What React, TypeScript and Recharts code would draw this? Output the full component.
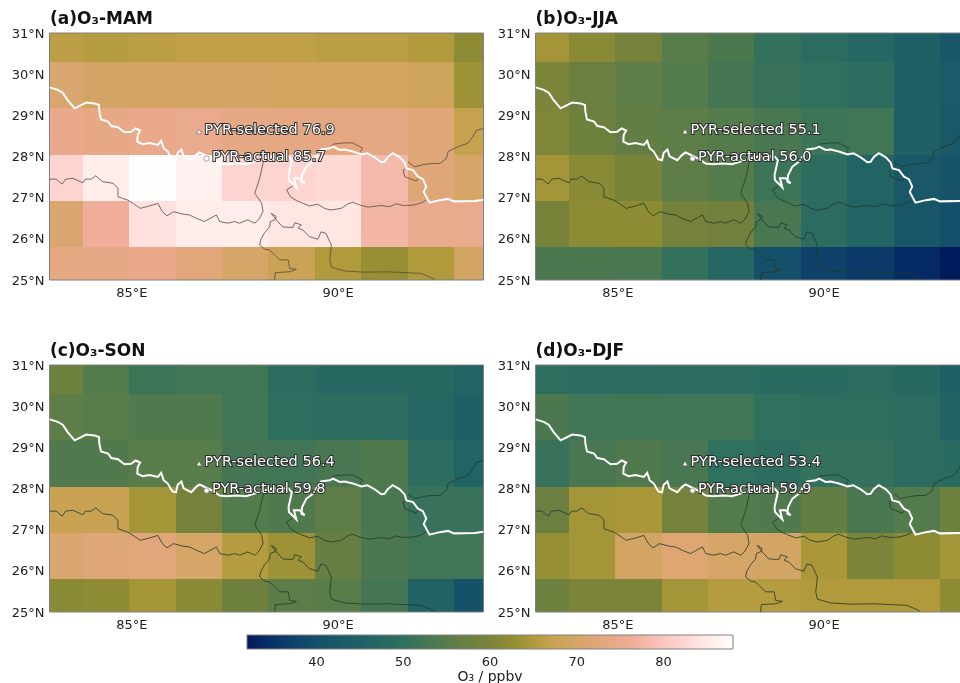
import React from "react";
import { ScatterChart, Scatter, XAxis, YAxis, ReferenceArea, Label } from "recharts";

const FONT = "'DejaVu Sans', sans-serif";
const lonEdges = [83, 83.8125, 84.9375, 86.0625, 87.1875, 88.3125, 89.4375, 90.5625, 91.6875, 92.8125, 93.53];
const latEdges = [31, 30.29, 29.17, 28.04, 26.92, 25.79, 25];
const lonTicks = [85, 90];
const latTicks = [25, 26, 27, 28, 29, 30, 31];
const cbarTicks = [40, 50, 60, 70, 80];

const mam = [
  [66, 65.5, 66, 66.5, 66.5, 66.5, 66, 66, 65, 62],
  [71, 69.5, 69.5, 69.5, 69.5, 69, 69, 69, 68.5, 63.5],
  [74.5, 74, 74.5, 75, 74, 73.5, 73.5, 73.5, 72, 67],
  [82, 85.5, 87.8, 86, 82, 82, 82.5, 78, 72, 70],
  [71, 76.5, 84, 85.5, 85.5, 84.5, 84.5, 77.5, 75, 75],
  [73.5, 74, 74.5, 72.5, 70, 68, 65, 63, 65, 69.5],
];
const jja = [
  [64, 61.5, 59, 55, 53.5, 50.5, 48.5, 47, 45, 42],
  [60, 57.5, 56, 54.5, 52.5, 51, 50, 49, 45, 43],
  [60.5, 58, 56.5, 55.5, 54.5, 53, 51.5, 52, 45, 42.5],
  [64, 61.5, 59.5, 56, 54.5, 51.5, 49, 46, 42.5, 41],
  [59.5, 62, 62, 59, 58.5, 53, 48.5, 46, 42, 40],
  [53.5, 53.5, 53, 50.5, 47, 40, 37.5, 36, 34, 32],
];
const son = [
  [58, 54.5, 51.5, 52, 52, 49, 47.5, 47.5, 47.5, 46],
  [56, 55, 54, 54, 52, 49.5, 49, 49, 47, 45],
  [54, 54, 55, 55, 52.5, 52, 53, 54, 49, 46],
  [67.5, 67.5, 64, 59, 54.5, 54, 56, 53, 51, 51],
  [71, 72, 72.5, 70, 65.5, 63.5, 57, 53.5, 52, 52],
  [61.5, 62, 64, 61.5, 58, 55.5, 55, 52.5, 45.5, 40.5],
];
const djf = [
  [49.5, 49, 48.5, 49, 49, 48, 48, 48.5, 47.5, 45],
  [53.5, 52, 52, 52, 52, 50, 49.5, 49.5, 48.5, 45.5],
  [51, 53, 54, 53, 50, 49, 50.5, 50.5, 48.5, 48],
  [57.5, 64, 64.5, 59, 54.5, 54, 56.5, 53, 54.5, 58],
  [63, 64, 69.5, 71.5, 70, 69.5, 64.5, 60, 62, 64],
  [58, 60, 60, 64, 65.5, 65.5, 65, 65, 65, 62],
];

const chinaBorder = [
  [83.0, 29.68], [83.2, 29.62], [83.32, 29.55], [83.44, 29.37], [83.61, 29.17], [83.73, 29.23], [83.89, 29.31], [84.09, 29.29],
  [84.2, 29.25], [84.21, 29.09], [84.25, 28.9], [84.42, 28.85], [84.5, 28.74], [84.66, 28.71], [84.82, 28.59], [84.98, 28.6],
  [85.09, 28.68], [85.2, 28.63], [85.14, 28.52], [85.13, 28.36], [85.26, 28.3], [85.43, 28.33], [85.63, 28.28], [85.71, 28.38],
  [85.77, 28.2], [85.87, 28.12], [85.98, 27.93], [86.07, 27.91], [86.11, 28.09], [86.2, 28.17], [86.25, 28.01], [86.28, 27.99],
  [86.44, 27.91], [86.56, 28.04], [86.64, 28.1], [86.78, 28.03], [86.95, 27.95], [87.13, 27.83], [87.29, 27.81], [87.57, 27.83],
  [87.77, 27.81], [88.1, 27.92], [88.4, 28.0], [88.8, 28.0], [88.88, 27.91], [88.8, 27.55], [88.81, 27.43], [88.99, 27.25],
  [88.93, 27.47], [89.07, 27.47], [89.19, 27.35], [89.11, 27.39], [89.13, 27.55], [89.23, 27.75], [89.39, 27.87], [89.59, 28.17],
  [89.8, 28.2], [89.88, 28.24], [90.04, 28.16], [90.16, 28.17], [90.36, 28.12], [90.57, 28.05], [90.71, 28.08], [90.89, 27.98],
  [91.05, 27.86], [91.13, 27.87], [91.21, 27.99], [91.33, 28.08], [91.5, 27.98], [91.62, 27.85], [91.66, 27.71], [91.82, 27.67],
  [91.94, 27.51], [92.06, 27.45], [92.14, 27.27], [92.08, 27.14], [92.22, 26.88], [92.47, 26.94], [92.67, 26.97], [92.81, 26.91],
  [93.32, 26.92], [93.53, 26.95],
];
const nepalBorder = [
  [83.0, 27.45], [83.16, 27.45], [83.31, 27.33], [83.39, 27.45], [83.57, 27.47], [83.81, 27.36], [83.87, 27.45], [84.01, 27.45],
  [84.12, 27.53], [84.29, 27.39], [84.54, 27.35], [84.66, 27.23], [84.66, 27.02], [84.9, 26.94], [85.06, 26.84], [85.2, 26.74],
  [85.43, 26.8], [85.63, 26.86], [85.74, 26.66], [85.85, 26.56], [86.01, 26.66], [86.24, 26.6], [86.4, 26.58], [86.56, 26.5],
  [86.76, 26.42], [87.05, 26.58], [87.13, 26.42], [87.33, 26.38], [87.49, 26.42], [87.61, 26.38], [87.81, 26.46], [87.98, 26.38],
  [88.07, 26.46], [88.18, 26.66], [88.15, 26.86], [87.98, 27.11], [88.1, 27.47], [88.18, 27.83], [88.2, 27.95],
];
const bhutanBorder = [
  [88.93, 27.3], [88.75, 27.19], [88.85, 27.02], [88.99, 26.93], [89.11, 26.88], [89.31, 26.8], [89.51, 26.84], [89.67, 26.74],
  [89.83, 26.7], [90.08, 26.74], [90.24, 26.85], [90.36, 26.89], [90.53, 26.82], [90.73, 26.77], [91.05, 26.81], [91.25, 26.78],
  [91.41, 26.85], [91.58, 26.81], [91.82, 26.82], [91.94, 26.85], [92.06, 26.89], [92.13, 26.94],
];
const bhutanNorth = [[89.8, 28.22], [89.88, 28.3], [90.16, 28.33], [90.36, 28.33], [90.6, 28.2], [90.53, 28.11]];
const arunachal = [
  [91.7, 27.87], [91.86, 27.75], [92.1, 27.81], [92.3, 27.83], [92.47, 27.83], [92.63, 27.95], [92.67, 28.12], [92.91, 28.24],
  [93.15, 28.32], [93.27, 28.48], [93.35, 28.63], [93.53, 28.68],
];
const assamLoop = [[91.66, 27.71], [91.58, 27.67], [91.62, 27.51], [91.9, 27.4], [91.96, 27.5]];
const bengalBorder = [
  [88.46, 25.0], [88.48, 25.18], [88.83, 25.2], [88.99, 25.26], [88.83, 25.28], [88.79, 25.49], [88.58, 25.49], [88.5, 25.57],
  [88.34, 25.73], [88.22, 25.75], [88.1, 25.85], [88.12, 25.97], [88.22, 26.15], [88.34, 26.29], [88.36, 26.42], [88.48, 26.47],
  [88.5, 26.54], [88.38, 26.62], [88.5, 26.46], [88.66, 26.29], [88.79, 26.28], [88.91, 26.28], [88.95, 26.39], [89.11, 26.34],
  [89.03, 26.26], [89.15, 26.21], [89.31, 26.05], [89.51, 25.99], [89.59, 26.17], [89.71, 26.13], [89.8, 25.93], [89.84, 25.85],
  [89.8, 25.49], [89.84, 25.31], [90.16, 25.22], [90.65, 25.19], [91.21, 25.2], [92.02, 25.16], [92.34, 25.02],
];
const thinBorders = [nepalBorder, bhutanBorder, bhutanNorth, arunachal, assamLoop, bengalBorder];

const selectedSite = [86.63, 28.6];
const actualSite = [86.81, 27.95];

const panels = [
  { title: "(a)O₃-MAM", grid: mam, selected: 76.9, actual: 85.7, thin: "#5a4a3a" },
  { title: "(b)O₃-JJA", grid: jja, selected: 55.1, actual: 56.0, thin: "#1f3a2c" },
  { title: "(c)O₃-SON", grid: son, selected: 56.4, actual: 59.8, thin: "#1f3a2c" },
  { title: "(d)O₃-DJF", grid: djf, selected: 53.4, actual: 59.9, thin: "#1f3a2c" },
];

const stopValues = [32, 36, 40, 45, 50, 55, 58, 60, 63, 65, 67, 70, 73, 76, 80, 84, 88];
const stopColors = ["#001a5e", "#0b3a6a", "#14506a", "#1f6066", "#30705e", "#587c4a", "#6e803e", "#7b8438", "#978f33", "#b09a3c", "#c6a24f", "#d6a568", "#e3a77e", "#eeab95", "#fbc6c0", "#ffe2df", "#ffffff"];

function hexToRgb(h: string) {
  return [1, 3, 5].map((i) => parseInt(h.slice(i, i + 2), 16));
}
function colorOf(v: number) {
  let i = 0;
  while (i < stopValues.length - 2 && v > stopValues[i + 1]) i++;
  const t = Math.min(1, Math.max(0, (v - stopValues[i]) / (stopValues[i + 1] - stopValues[i])));
  const a = hexToRgb(stopColors[i]);
  const b = hexToRgb(stopColors[i + 1]);
  const c = a.map((x, k) => Math.round(x + (b[k] - x) * t));
  return `rgb(${c[0]},${c[1]},${c[2]})`;
}

const toPoints = (line: number[][]) => line.map(([lon, lat]) => ({ lon, lat }));
const noDot = () => <g />;

function siteShape(kind: "tri" | "dot", text: string, dx: number, dy: number) {
  return (p: any) => {
    const { cx, cy } = p;
    return (
      <g>
        {kind === "tri" ? (
          <path d={`M${cx},${cy - 2.6} L${cx + 2.6},${cy + 2} L${cx - 2.6},${cy + 2} Z`} fill="#fff" stroke="#555" strokeWidth={0.5} />
        ) : (
          <circle cx={cx} cy={cy} r={2.6} fill="#fff" stroke="#555" strokeWidth={0.5} />
        )}
        <text
          x={cx + dx}
          y={cy + dy}
          fontFamily={FONT}
          fontSize={14.5}
          fill="#fff"
          stroke="#2c2c2c"
          strokeWidth={2}
          paintOrder="stroke"
          dominantBaseline="central"
        >
          {text}
        </text>
      </g>
    );
  };
}

function Panel({ panel, left, top }: { panel: (typeof panels)[number]; left: number; top: number }) {
  const cells: React.ReactNode[] = [];
  panel.grid.forEach((row, r) =>
    row.forEach((v, c) =>
      cells.push(
        <ReferenceArea
          key={`${r}-${c}`}
          x1={lonEdges[c]}
          x2={lonEdges[c + 1]}
          y1={latEdges[r + 1]}
          y2={latEdges[r]}
          fill={colorOf(v)}
          fillOpacity={1}
          stroke="none"
          shapeRendering="crispEdges"
        />
      )
    )
  );
  return (
    <div style={{ position: "absolute", left, top }}>
      <div style={{ position: "absolute", left: 50, top: -1, fontFamily: FONT, fontWeight: 700, fontSize: 17, lineHeight: "18px", color: "#111", whiteSpace: "nowrap" }}>
        {panel.title}
      </div>
      <ScatterChart width={490} height={300} margin={{ top: 23, right: 6.5, bottom: 0, left: 0 }}>
        <XAxis
          type="number"
          dataKey="lon"
          domain={[83, 93.53]}
          ticks={lonTicks}
          allowDataOverflow
          height={30}
          tickLine={false}
          axisLine={false}
          tickMargin={2}
          tickFormatter={(v: number) => `${v}°E`}
          tick={{ fontFamily: FONT, fontSize: 13, fill: "#222" }}
        />
        <YAxis
          type="number"
          dataKey="lat"
          domain={[25, 31]}
          ticks={latTicks}
          allowDataOverflow
          width={49.5}
          tickLine={false}
          axisLine={false}
          tickMargin={4}
          tickFormatter={(v: number) => `${v}°N`}
          tick={{ fontFamily: FONT, fontSize: 13, fill: "#222", dx: 5 }}
        />
        {cells}
        {thinBorders.map((b, i) => (
          <Scatter key={i} data={toPoints(b)} line={{ stroke: panel.thin, strokeWidth: 0.8 }} shape={noDot} isAnimationActive={false} />
        ))}
        <Scatter data={toPoints(chinaBorder)} line={{ stroke: "#fff", strokeWidth: 2 }} shape={noDot} isAnimationActive={false} />
        <Scatter
          data={toPoints([selectedSite])}
          shape={siteShape("tri", `PYR-selected ${panel.selected.toFixed(1)}`, 5.5, -2.5)}
          isAnimationActive={false}
        />
        <Scatter
          data={toPoints([actualSite])}
          shape={siteShape("dot", `PYR-actual ${panel.actual.toFixed(1)}`, 5.5, -2.5)}
          isAnimationActive={false}
        />
        <ReferenceArea x1={83} x2={93.53} y1={25} y2={31} fill="none" stroke="#808080" strokeWidth={1} />
      </ScatterChart>
    </div>
  );
}

function Colorbar() {
  const min = stopValues[0];
  const max = stopValues[stopValues.length - 1];
  const anchors = stopValues.map((v) => ({ v, y: 0.5 }));
  return (
    <div style={{ position: "absolute", left: 227, top: 630 }}>
      <ScatterChart width={526} height={53} margin={{ top: 5, right: 20, bottom: 0, left: 20 }}>
        <defs>
          <linearGradient id="cbar" x1="0" y1="0" x2="1" y2="0">
            {stopValues.map((v, i) => (
              <stop key={v} offset={(v - min) / (max - min)} stopColor={stopColors[i]} />
            ))}
          </linearGradient>
        </defs>
        <XAxis
          type="number"
          dataKey="v"
          domain={[min, max]}
          ticks={cbarTicks}
          height={34}
          tickLine={false}
          axisLine={false}
          tickMargin={2}
          tick={{ fontFamily: FONT, fontSize: 13, fill: "#222" }}
        >
          <Label value="O₃ / ppbv" position="insideBottom" offset={2} style={{ fontFamily: FONT, fontSize: 14, fill: "#222" }} />
        </XAxis>
        <YAxis type="number" dataKey="y" domain={[0, 1]} hide />
        <ReferenceArea x1={min} x2={max} y1={0} y2={1} fill="url(#cbar)" fillOpacity={1} stroke="#808080" strokeWidth={1} />
        <Scatter data={anchors} shape={noDot} isAnimationActive={false} />
      </ScatterChart>
    </div>
  );
}

export default function App() {
  return (
    <div style={{ position: "absolute", left: 0, top: 0, width: 960, height: 683, overflow: "hidden", background: "#fff", filter: "blur(0.35px)" }}>
      <Panel panel={panels[0]} left={0} top={10} />
      <Panel panel={panels[1]} left={485.5} top={10} />
      <Panel panel={panels[2]} left={0} top={342} />
      <Panel panel={panels[3]} left={485.5} top={342} />
      <Colorbar />
    </div>
  );
}
